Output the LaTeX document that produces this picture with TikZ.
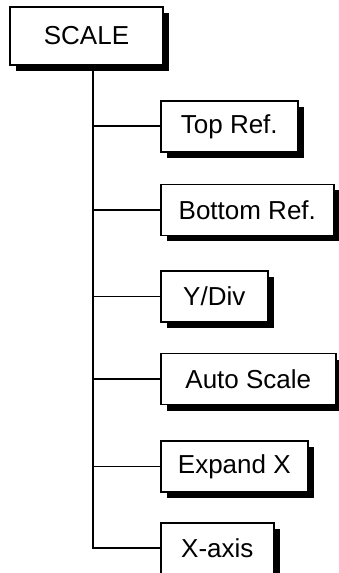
\documentclass[tikz,border=0pt]{standalone}
\usepackage{fontspec}
\setmainfont{Liberation Sans}
\usetikzlibrary{positioning,shadows}
\tikzset{
  menubox/.style={rectangle,draw=black,fill=white,line width=1.6pt,
                  font=\fontsize{26}{30}\selectfont,minimum height=51pt,
                  inner xsep=8pt,anchor=north west,
                  drop shadow={shadow xshift=6pt,shadow yshift=-6pt,fill=black,opacity=1}},
  rootbox/.style={menubox,minimum width=153pt,minimum height=58pt,anchor=center},
  branch/.style={black,line width=1.6pt},
}

\begin{document}
\begin{tikzpicture}[x=1pt,y=1pt]
  \useasboundingbox (0,0) rectangle (338,573);
  \node[rootbox] (scale) at (86.5,537) {SCALE};
  \coordinate (trunk) at (93,508);
  % menu entries
  \node[menubox,minimum width=137pt] (topref) at (160,473) {Top Ref.};
  \node[menubox,minimum width=173pt,below=31pt of topref.south west,anchor=north west] (botref) {Bottom Ref.};
  \node[menubox,minimum width=107pt,below=34pt of botref.south west,anchor=north west] (ydiv) {Y/Div};
  \node[menubox,minimum width=175pt,below=30pt of ydiv.south west,anchor=north west] (autoscale) {Auto Scale};
  \node[menubox,minimum width=147pt,below=35pt of autoscale.south west,anchor=north west] (expandx) {Expand X};
  \node[menubox,minimum width=113pt,below=29pt of expandx.south west,anchor=north west] (xaxis) {X-axis};
  % connectors
  \foreach \n in {topref,botref,ydiv,autoscale,expandx,xaxis}
    \draw[branch] (trunk) |- (\n.west);
\end{tikzpicture}
\end{document}
